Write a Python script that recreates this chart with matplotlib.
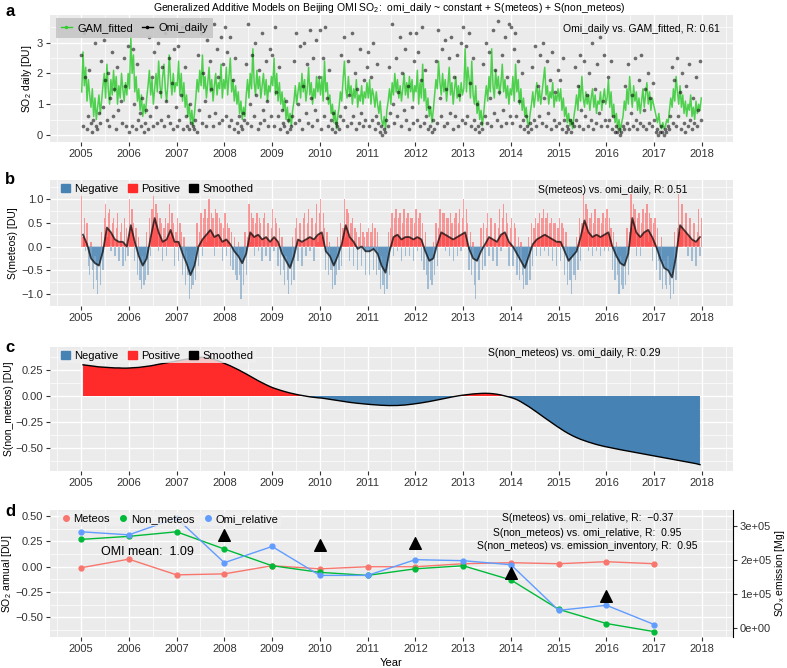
import numpy as np
import matplotlib
matplotlib.use("Agg")
import matplotlib.pyplot as plt
from matplotlib.patches import Patch
from matplotlib.lines import Line2D

plt.rcParams['font.family'] = ['Liberation Sans', 'DejaVu Sans']
plt.rcParams['mathtext.fontset'] = 'custom'
plt.rcParams['mathtext.rm'] = 'Liberation Sans'
plt.rcParams['mathtext.it'] = 'Liberation Sans:italic'

# ---------------- data ----------------
# panel a: GAM fitted / OMI daily, ~10-day samples, 36 per year 2005-2017
gam_fitted = [
    1.4, 2.7, 1.6, 2.2, 1.1, 1.8, 1.3, 0.9, 1.5, 0.6, 1.2, 0.5, 0.9, 1.3, 0.7, 1.1, 1.6, 2.0, 1.2, 2.3, 1.5, 1.0, 1.8, 1.3, 2.1, 1.4, 1.9, 1.0, 1.6, 1.2, 2.0, 1.5, 1.1, 1.7, 1.3, 2.0,
    1.5, 3.2, 2.0, 2.6, 1.4, 1.9, 1.1, 1.5, 0.8, 1.3, 0.6, 1.0, 0.7, 1.2, 1.6, 2.1, 1.3, 1.8, 1.0, 1.5, 2.0, 1.4, 2.4, 1.6, 1.2, 1.9, 2.3, 1.5, 1.1, 1.7, 2.6, 1.8, 1.3, 2.0, 1.4, 1.7,
    1.6, 2.4, 1.3, 2.0, 1.1, 1.7, 0.9, 1.3, 0.6, 1.0, 0.4, 0.8, 0.3, 0.7, 1.2, 1.8, 1.4, 2.1, 1.6, 2.6, 1.5, 1.9, 1.2, 1.7, 2.2, 1.4, 1.8, 1.1, 1.6, 2.0, 1.3, 1.7, 1.5, 2.3, 1.2, 1.8,
    1.5, 2.2, 1.3, 1.9, 2.5, 1.4, 1.8, 1.1, 1.6, 1.0, 1.4, 0.7, 1.1, 0.5, 0.9, 0.6, 1.3, 1.8, 1.2, 2.0, 1.5, 2.8, 1.7, 1.3, 2.1, 1.5, 1.9, 1.2, 1.6, 2.0, 1.3, 1.8, 1.1, 1.6, 1.4, 1.9,
    1.6, 2.5, 1.3, 2.0, 1.1, 1.7, 1.0, 1.4, 0.8, 1.2, 0.5, 0.9, 0.4, 0.7, 0.3, 0.8, 1.1, 1.6, 1.0, 1.4, 1.7, 1.2, 2.0, 1.4, 1.8, 1.1, 1.5, 2.2, 1.3, 1.7, 1.0, 1.5, 1.2, 1.9, 1.4, 1.8,
    1.3, 1.9, 1.1, 2.4, 1.4, 1.7, 1.0, 1.3, 0.7, 1.0, 0.4, 0.8, 0.2, 0.6, 0.9, 1.4, 1.1, 1.8, 2.4, 1.5, 1.2, 1.9, 1.3, 1.6, 1.0, 1.5, 1.2, 1.8, 0.9, 1.3, 1.1, 1.6, 1.0, 1.4, 1.2, 1.7,
    1.2, 1.8, 1.0, 1.5, 1.3, 0.9, 1.4, 1.0, 0.7, 1.1, 0.5, 0.3, 0.6, 0.2, 0.8, 1.1, 1.5, 1.0, 1.7, 1.3, 2.0, 1.4, 1.8, 1.2, 1.6, 1.1, 1.5, 2.0, 1.3, 1.7, 1.2, 1.9, 1.4, 1.8, 1.1, 1.6,
    1.4, 2.1, 1.0, 1.7, 1.2, 2.3, 1.1, 1.5, 0.8, 1.2, 0.6, 0.9, 0.4, 0.8, 1.3, 1.8, 1.5, 2.4, 1.7, 1.3, 2.0, 1.4, 1.8, 1.1, 1.6, 2.2, 1.3, 1.7, 1.0, 1.5, 1.9, 1.2, 1.6, 1.1, 1.7, 1.3,
    1.5, 2.8, 1.4, 2.2, 1.8, 1.2, 2.4, 1.3, 1.0, 1.6, 0.7, 1.1, 0.5, 0.8, 0.3, 0.7, 1.2, 1.6, 1.1, 1.9, 1.4, 2.8, 1.6, 1.2, 2.1, 1.5, 1.9, 1.3, 1.7, 2.3, 1.4, 1.8, 1.2, 1.6, 1.0, 1.5,
    1.3, 1.9, 1.1, 2.3, 1.4, 1.8, 1.0, 1.5, 0.8, 1.2, 0.6, 0.9, 0.4, 0.3, 0.7, 1.0, 1.4, 0.9, 1.3, 1.7, 1.1, 1.5, 1.0, 1.4, 1.8, 2.2, 1.3, 1.6, 1.0, 1.4, 1.2, 1.7, 0.9, 1.3, 1.1, 1.5,
    1.1, 1.5, 0.8, 1.2, 0.6, 0.9, 0.4, 0.7, 0.3, 0.5, 0.2, 0.6, 0.9, 1.3, 0.8, 1.6, 1.1, 1.9, 1.2, 0.9, 1.4, 1.0, 1.3, 0.8, 1.2, 1.5, 0.9, 1.3, 0.7, 1.1, 1.0, 1.4, 0.8, 1.2, 1.5, 1.0,
    1.2, 1.8, 0.9, 1.4, 0.6, 1.0, 0.4, 0.7, 0.2, 0.5, 0.1, 0.4, 0.6, 1.1, 0.8, 1.5, 1.0, 1.9, 1.3, 0.9, 1.6, 1.1, 1.4, 0.8, 1.2, 0.7, 1.1, 1.5, 0.9, 1.3, 1.7, 1.0, 1.4, 0.8, 1.2, 1.0,
    0.8, 0.6, 0.4, 0.7, 0.3, 0.2, 0.4, 0.2, 0.3, 0.5, 0.4, 0.8, 1.2, 0.9, 1.5, 1.1, 1.9, 1.4, 1.0, 1.6, 0.9, 1.3, 0.7, 1.1, 0.6, 1.0, 0.8, 1.3, 0.6, 0.9, 0.5, 1.1, 0.7, 1.0, 0.8, 1.2,
]
omi_daily = [
    2.6, 0.3, 3.3, 1.9, 0.2, 0.6, 2.1, 0.4, 0.1, 0.5, 3.0, 0.3, 0.2, 0.7, 0.4, 2.4, 0.9, 3.1, 1.8, 0.5, 2.0, 0.3, 1.2, 2.7, 0.6, 1.5, 0.2, 2.2, 0.8, 3.4, 1.1, 0.4, 2.5, 1.6, 0.3, 2.9,
    0.1, 3.4, 0.3, 2.8, 1.0, 0.2, 2.3, 0.5, 0.7, 0.3, 1.2, 0.1, 0.4, 0.8, 0.2, 3.2, 0.6, 1.9, 0.3, 2.7, 0.9, 0.4, 3.0, 1.4, 0.5, 2.2, 0.3, 3.3, 1.1, 0.6, 2.5, 0.4, 1.7, 0.2, 2.8, 0.9,
    0.3, 2.9, 0.5, 1.3, 3.5, 0.2, 2.2, 0.6, 0.3, 0.2, 1.0, 0.4, 0.3, 0.2, 0.5, 0.1, 2.6, 0.8, 3.3, 0.4, 2.0, 1.1, 0.3, 3.1, 0.6, 2.4, 1.5, 0.3, 3.6, 0.7, 2.8, 1.9, 0.4, 3.2, 0.5, 2.3,
    3.5, 0.6, 2.7, 0.3, 3.2, 0.5, 1.8, 0.2, 2.5, 0.4, 0.1, 0.6, 0.3, 0.2, 0.7, 0.5, 2.3, 0.4, 3.6, 1.0, 0.3, 2.6, 0.6, 3.0, 1.3, 0.2, 2.1, 0.4, 3.3, 0.8, 0.5, 2.4, 1.1, 0.3, 2.8, 0.6,
    2.6, 0.3, 3.5, 1.4, 0.6, 2.2, 0.2, 0.8, 0.4, 0.3, 1.1, 0.1, 0.5, 0.2, 0.3, 0.6, 2.4, 0.4, 3.3, 1.0, 0.5, 2.9, 0.2, 1.6, 3.0, 0.7, 2.3, 0.4, 3.4, 1.2, 0.3, 2.5, 0.8, 3.1, 0.5, 1.9,
    3.4, 0.2, 2.5, 0.6, 3.5, 1.2, 0.3, 2.1, 0.5, 0.2, 0.7, 0.1, 0.4, 0.3, 0.2, 0.6, 2.6, 0.5, 3.2, 0.9, 0.3, 2.4, 1.3, 0.4, 3.3, 0.6, 2.0, 0.2, 1.5, 0.4, 2.8, 0.7, 0.3, 1.8, 0.5, 2.2,
    2.7, 0.3, 1.9, 0.5, 3.0, 0.2, 0.6, 2.3, 0.4, 0.1, 0.3, 0.0, 0.2, 0.1, 0.5, 0.3, 2.2, 0.7, 3.6, 1.0, 0.4, 2.5, 0.6, 1.4, 3.2, 0.3, 2.0, 0.8, 2.8, 0.5, 1.6, 0.2, 3.3, 0.9, 0.4, 2.4,
    3.3, 0.5, 2.7, 0.3, 1.8, 3.5, 0.4, 2.1, 0.6, 0.2, 0.9, 0.3, 0.1, 0.5, 0.2, 2.4, 0.4, 3.4, 1.2, 0.6, 2.8, 0.3, 3.1, 1.5, 0.4, 2.5, 0.7, 3.2, 0.2, 1.9, 0.6, 2.6, 0.3, 1.3, 3.0, 0.5,
    3.5, 0.4, 2.9, 0.6, 3.3, 1.7, 0.3, 2.5, 0.5, 0.2, 1.0, 0.3, 0.1, 0.4, 0.2, 2.3, 0.6, 3.0, 0.4, 2.7, 1.2, 0.3, 3.4, 0.7, 2.1, 0.5, 3.7, 1.4, 0.3, 2.6, 0.8, 3.2, 0.4, 1.9, 3.6, 0.6,
    3.5, 0.4, 2.8, 3.3, 0.6, 2.4, 1.1, 0.3, 2.0, 0.5, 0.2, 0.6, 0.3, 0.1, 0.4, 0.2, 2.2, 0.5, 2.9, 0.3, 1.6, 0.6, 2.6, 0.4, 3.0, 1.2, 0.3, 2.4, 0.7, 1.8, 0.2, 2.7, 0.5, 1.4, 0.3, 2.1,
    0.4, 1.8, 0.2, 2.5, 0.5, 0.1, 0.3, 0.2, 0.5, 0.1, 0.4, 0.3, 2.2, 0.5, 1.6, 0.3, 2.6, 0.8, 0.2, 2.4, 0.6, 1.3, 0.3, 2.0, 0.5, 3.0, 0.2, 1.5, 0.4, 2.3, 0.7, 3.2, 0.3, 1.1, 2.6, 0.5,
    0.3, 1.9, 0.5, 2.4, 0.2, 0.6, 0.1, 0.3, 0.1, 0.2, 0.0, 0.1, 0.3, 0.2, 1.6, 0.4, 2.3, 0.2, 0.7, 1.3, 0.3, 2.5, 0.5, 0.2, 1.8, 0.4, 2.6, 0.3, 0.8, 1.5, 0.2, 2.0, 0.4, 1.2, 0.3, 1.7,
    0.5, 0.1, 0.2, 0.0, 0.1, 0.3, 0.1, 0.0, 0.2, 0.1, 0.3, 0.2, 0.6, 2.2, 0.4, 1.8, 0.3, 2.5, 0.6, 1.4, 0.2, 2.0, 0.4, 0.1, 1.6, 0.3, 2.3, 0.5, 0.2, 1.2, 0.4, 1.9, 0.3, 0.8, 2.4, 0.5,
]

# panel b: S(meteos), 36 per year, and its smoothed curve, 12 per year
s_meteos = [
    1.1, 0.2, 0.6, -0.1, 0.5, -0.4, -0.6, 0.1, -0.5, -0.9, -0.2, -0.7, -1.0, -0.3, -0.8, 0.3, -0.5, 0.6, 0.9, 0.2, 0.7, 0.8, -0.1, 0.5, 0.6, -0.2, 0.4, 0.7, -0.3, 0.3, 0.5, -0.4, 0.6, -0.3, 0.4, -0.2,
    1.0, 0.3, 0.8, 0.5, -0.3, 0.4, -0.6, 0.2, -0.7, -0.9, -0.2, -0.8, -0.7, 0.3, -0.6, 0.6, -0.2, 0.8, 1.1, 0.4, 0.9, 0.7, -0.1, 0.6, 0.5, -0.3, 0.4, 0.6, -0.2, 0.5, 0.9, 0.2, 0.7, 0.5, -0.4, 0.3,
    0.6, -0.3, 0.5, 0.3, -0.6, 0.2, -0.8, -0.1, -0.6, -1.1, -0.5, -0.9, -0.8, -0.2, -0.7, 0.5, -0.4, 0.3, 0.7, -0.2, 0.6, 0.8, 0.1, 0.6, 1.0, 0.2, 0.7, 0.6, -0.2, 0.8, 0.7, 0.0, 0.6, 0.5, -0.3, 0.4,
    0.7, -0.2, 0.5, 0.4, -0.4, 0.3, -0.5, 0.2, -0.6, -0.7, 0.1, -0.6, -1.1, -0.3, -0.8, 0.3, -0.6, 0.2, 0.9, 0.1, 0.7, 0.6, -0.2, 0.5, 0.7, -0.1, 0.6, 0.5, -0.3, 0.6, 0.7, -0.2, 0.5, 0.5, -0.3, 0.4,
    0.8, -0.1, 0.6, 0.5, -0.4, 0.4, -0.6, 0.2, -0.5, -0.8, -0.2, -0.7, -1.0, -0.4, -0.8, 0.2, -0.7, 0.4, 0.6, -0.3, 0.5, 0.5, -0.4, 0.6, 0.7, -0.2, 0.5, 0.8, -0.1, 0.6, 0.6, -0.3, 0.5, 0.9, 0.1, 0.7,
    1.0, 0.2, 0.7, 0.4, -0.5, 0.3, -0.6, 0.1, -0.5, -0.9, -0.3, -0.8, -0.6, 0.2, -0.5, 0.5, -0.4, 0.4, 1.0, 0.2, 0.8, 0.7, -0.3, 0.5, 0.6, -0.4, 0.4, 0.3, -0.5, 0.2, 0.5, -0.4, 0.3, 0.2, -0.6, 0.3,
    0.4, -0.6, 0.3, 0.5, -0.5, 0.4, -0.6, 0.3, -0.5, -0.9, -0.2, -0.8, -1.0, -0.4, -0.9, 0.3, -0.6, 0.4, 0.7, -0.2, 0.6, 0.8, -0.1, 0.6, 0.7, -0.3, 0.5, 0.8, -0.2, 0.6, 0.7, -0.2, 0.6, 0.6, -0.3, 0.5,
    0.8, -0.1, 0.6, 0.7, -0.3, 0.5, -0.5, 0.3, -0.6, -0.9, -0.2, -0.7, -0.8, 0.1, -0.6, 0.5, -0.4, 0.4, 0.8, 0.0, 0.7, 0.7, -0.1, 0.6, 0.6, -0.2, 0.7, 0.5, -0.3, 0.6, 0.7, -0.2, 0.5, 0.8, -0.1, 0.6,
    1.0, 0.0, 0.8, 0.5, -0.5, 0.3, -0.6, 0.1, -0.8, -1.1, -0.3, -0.7, -0.7, 0.4, -0.5, 0.5, -0.4, 0.4, 0.7, -0.2, 0.6, 0.6, -0.3, 0.5, 0.5, -0.4, 0.4, 0.8, -0.1, 0.6, 0.9, 0.0, 0.7, 0.5, -0.4, 0.4,
    0.6, -0.4, 0.5, 0.4, -0.6, 0.2, -0.7, 0.1, -0.6, -0.9, -0.3, -0.8, -0.8, 0.2, -0.7, 0.5, -0.4, 0.4, 0.6, -0.2, 0.5, 0.7, -0.2, 0.6, 0.8, -0.1, 0.6, 0.7, -0.2, 0.5, 0.6, -0.3, 0.5, 0.5, -0.4, 0.4,
    0.6, -0.3, 0.5, 0.4, -0.6, 0.3, -0.8, 0.0, -0.7, -1.0, -0.2, -0.6, -0.7, 0.2, -0.5, 0.6, -0.3, 0.5, 1.1, 0.3, 0.9, 0.8, -0.1, 0.6, 0.7, -0.2, 0.5, 0.8, -0.1, 0.6, 0.6, -0.2, 0.5, 0.7, -0.1, 0.6,
    0.8, -0.1, 0.6, 0.4, -0.5, 0.3, -0.7, 0.1, -0.6, -1.0, -0.2, -0.8, -0.9, -0.3, -0.8, 0.4, -0.6, 0.3, 1.1, 0.4, 0.9, 0.8, -0.2, 0.6, 0.7, -0.2, 0.5, 0.8, 0.0, 0.7, 0.9, 0.1, 0.7, 0.6, -0.3, 0.5,
    0.6, -0.5, 0.4, -0.3, -0.7, 0.2, -0.9, -0.3, -0.8, -0.9, -0.2, -0.8, -1.1, -0.5, -1.0, 0.3, -0.7, 0.4, 1.1, 0.3, 0.9, 0.9, 0.0, 0.7, 0.7, -0.2, 0.6, 0.6, -0.3, 0.5, 0.5, -0.4, 0.3, 0.8, -0.2, 0.6,
]
s_meteos_smooth = [
    0.25, 0.05, -0.25, -0.35, -0.4, -0.1, 0.4, 0.3, 0.15, 0.1, 0.1, 0.0,
    0.45, 0.1, -0.2, -0.4, -0.25, 0.2, 0.6, 0.3, 0.1, 0.15, 0.35, 0.1,
    0.1, -0.15, -0.35, -0.6, -0.4, 0.0, 0.15, 0.25, 0.35, 0.2, 0.25, 0.1,
    0.15, 0.05, -0.1, -0.2, -0.35, -0.15, 0.3, 0.2, 0.25, 0.15, 0.2, 0.1,
    0.2, 0.1, -0.15, -0.3, -0.45, -0.2, 0.15, 0.1, 0.15, 0.2, 0.15, 0.25,
    0.3, -0.1, -0.2, -0.4, -0.2, 0.05, 0.45, 0.2, 0.1, -0.05, 0.0, -0.1,
    -0.1, -0.05, -0.15, -0.4, -0.55, -0.1, 0.2, 0.25, 0.15, 0.2, 0.2, 0.15,
    0.2, 0.15, -0.1, -0.3, -0.25, 0.05, 0.3, 0.25, 0.2, 0.15, 0.2, 0.25,
    0.3, -0.05, -0.25, -0.3, -0.1, 0.05, 0.2, 0.15, 0.1, 0.25, 0.3, 0.1,
    0.0, -0.15, -0.3, -0.45, -0.2, 0.05, 0.15, 0.2, 0.25, 0.2, 0.15, 0.1,
    0.1, -0.1, -0.3, -0.2, -0.1, 0.2, 0.55, 0.3, 0.2, 0.25, 0.2, 0.25,
    0.3, 0.0, -0.2, -0.35, -0.4, -0.15, 0.6, 0.3, 0.2, 0.3, 0.35, 0.2,
    0.0, -0.25, -0.45, -0.5, -0.65, -0.2, 0.45, 0.35, 0.25, 0.15, 0.1, 0.2,
]

# panel c: S(non_meteos), monthly
s_non_meteos = [
    0.30, 0.295, 0.29, 0.285, 0.28, 0.278, 0.275, 0.272, 0.27, 0.27, 0.268, 0.268,
    0.27, 0.272, 0.275, 0.28, 0.285, 0.29, 0.298, 0.305, 0.312, 0.32, 0.327, 0.333,
    0.34, 0.347, 0.355, 0.362, 0.368, 0.372, 0.372, 0.368, 0.36, 0.35, 0.338, 0.322,
    0.305, 0.29, 0.272, 0.253, 0.233, 0.212, 0.19, 0.168, 0.147, 0.127, 0.108, 0.09,
    0.075, 0.062, 0.05, 0.039, 0.029, 0.02, 0.012, 0.005, -0.002, -0.008, -0.013, -0.017,
    -0.02, -0.026, -0.032, -0.038, -0.044, -0.05, -0.056, -0.061, -0.066, -0.07, -0.074, -0.078,
    -0.081, -0.084, -0.087, -0.089, -0.091, -0.092, -0.092, -0.091, -0.089, -0.086, -0.082, -0.077,
    -0.072, -0.066, -0.06, -0.053, -0.046, -0.038, -0.03, -0.022, -0.014, -0.007, 0.0, 0.006,
    0.011, 0.016, 0.02, 0.023, 0.025, 0.026, 0.025, 0.022, 0.017, 0.01, 0.001, -0.009,
    -0.02, -0.035, -0.055, -0.078, -0.102, -0.128, -0.155, -0.183, -0.21, -0.237, -0.263, -0.29,
    -0.315, -0.34, -0.362, -0.382, -0.4, -0.416, -0.43, -0.443, -0.455, -0.466, -0.476, -0.485,
    -0.493, -0.501, -0.509, -0.516, -0.523, -0.53, -0.537, -0.544, -0.551, -0.558, -0.565, -0.572,
    -0.58, -0.587, -0.594, -0.601, -0.608, -0.615, -0.622, -0.629, -0.636, -0.643, -0.65, -0.66,
]

# panel d: annual values
years_d = [2005, 2006, 2007, 2008, 2009, 2010, 2011, 2012, 2013, 2014, 2015, 2016, 2017]
meteos_annual = [-0.01, 0.075, -0.08, -0.07, 0.01, -0.02, 0.0, 0.0, 0.03, 0.04, 0.03, 0.05, 0.03]
non_meteos_annual = [0.27, 0.30, 0.345, 0.175, 0.01, -0.055, -0.085, -0.02, 0.01, -0.13, -0.42, -0.56, -0.64]
omi_relative = [0.345, 0.315, 0.48, 0.04, 0.20, -0.085, -0.085, 0.07, 0.06, 0.02, -0.43, -0.38, -0.57]
inv_years = [2008, 2010, 2012, 2014, 2016]
emission_inventory = [2.73e5, 2.44e5, 2.49e5, 1.61e5, 0.94e5]

# ---------------- plotting ----------------
t36 = 2005 + (np.arange(len(gam_fitted)) + 0.5) / 36.0
t36b = 2005 + (np.arange(len(omi_daily)) + 0.2) / 36.0
t12 = 2005 + (np.arange(len(s_non_meteos)) + 0.5) / 12.0

RED = '#FF2A2A'
BLUE = '#4682B4'
TXT = '#333333'
FS = 8
LFS = 7.5  # axis titles

fig = plt.figure(figsize=(7.87, 6.68), dpi=100)
W, H = 787.0, 668.0


def make_ax(top, bottom):
    return fig.add_axes([50 / W, 1 - bottom / H, 683 / W, (bottom - top) / H])


def style(ax, ylim, yticks, ystep):
    ax.set_facecolor('#EBEBEB')
    for s in ax.spines.values():
        s.set_visible(False)
    ax.set_xlim(2004.35, 2018.65)
    ax.set_xticks(range(2005, 2019))
    ax.set_xticks(np.arange(2004.5, 2019, 1.0), minor=True)
    ax.set_yticks(yticks)
    ax.set_yticks(np.arange(yticks[0] - ystep / 2, yticks[-1] + ystep, ystep), minor=True)
    ax.set_ylim(*ylim)
    ax.grid(which='major', color='white', lw=1.0)
    ax.grid(which='minor', color='white', lw=0.5)
    ax.set_axisbelow(True)
    ax.tick_params(which='major', length=3, color=TXT, labelsize=FS, labelcolor=TXT, pad=2)
    ax.tick_params(which='minor', length=0)


# --- a ---
ax1 = make_ax(15, 142)
style(ax1, (-0.23, 3.9), [0, 1, 2, 3], 1.0)
ax1.plot(t36, gam_fitted, color='#33CC33', lw=1.1, alpha=0.85, zorder=2)
ax1.scatter(t36b, omi_daily, s=7, color='black', alpha=0.55, lw=0, zorder=3)
ax1.set_ylabel('SO$_2$ daily [DU]', fontsize=LFS, color='black', labelpad=2)
ax1.text(2016.74, 3.44, 'Omi_daily vs. GAM_fitted, R: 0.61', fontsize=7.5, ha='center', va='center')
leg = ax1.legend(handles=[Line2D([], [], color='#33CC33', marker='.', ms=3, lw=1),
                          Line2D([], [], color='black', marker='.', ms=3, lw=1)],
                 labels=['GAM_fitted', 'Omi_daily'], ncol=2, loc='upper left',
                 bbox_to_anchor=(0.0, 1.02), fontsize=8, frameon=True, fancybox=False,
                 handlelength=1.0, columnspacing=0.8, handletextpad=0.5, borderpad=0.45)
leg.get_frame().set_facecolor('#C6C6C6')
leg.get_frame().set_edgecolor('none')
leg.get_frame().set_alpha(0.9)

# --- b ---
ax2 = make_ax(180, 306)
style(ax2, (-1.25, 1.40), [-1.0, -0.5, 0.0, 0.5, 1.0], 0.5)
vals = np.array(s_meteos)
sm = np.array(s_meteos_smooth)
ax2.bar(t36, vals, width=1 / 36.0, color=np.where(vals > 0, RED, BLUE), alpha=0.45, lw=0, zorder=2)
ax2.fill_between(t12, sm, 0, where=sm >= 0, interpolate=True, color=RED, alpha=0.6, lw=0, zorder=2)
ax2.fill_between(t12, sm, 0, where=sm <= 0, interpolate=True, color=BLUE, alpha=0.7, lw=0, zorder=2)
ax2.plot(t12, sm, color='black', lw=1.3, alpha=0.7, zorder=3)
ax2.set_ylabel('S(meteos) [DU]', fontsize=LFS, color='black', labelpad=2)
ax2.text(2016.14, 1.19, 'S(meteos) vs. omi_daily, R: 0.51', fontsize=7.5, ha='center', va='center')


def patch_legend(ax):
    lg = ax.legend(handles=[Patch(color=BLUE), Patch(color=RED), Patch(color='black')],
                   labels=['Negative', 'Positive', 'Smoothed'], ncol=3, loc='upper left',
                   bbox_to_anchor=(0.005, 1.03), fontsize=8, frameon=True, fancybox=False,
                   handlelength=0.8, handleheight=0.8, columnspacing=0.8, handletextpad=0.4,
                   borderpad=0.2)
    lg.get_frame().set_facecolor('#F0F0F0')
    lg.get_frame().set_edgecolor('none')
    return lg


patch_legend(ax2)

# --- c ---
ax3 = make_ax(346.7, 470.7)
style(ax3, (-0.718, 0.474), [-0.5, -0.25, 0.0, 0.25], 0.25)
nm = np.array(s_non_meteos)
ax3.fill_between(t12, nm, 0, where=nm >= 0, interpolate=True, color=RED, lw=0, zorder=2)
ax3.fill_between(t12, nm, 0, where=nm <= 0, interpolate=True, color=BLUE, lw=0, zorder=2)
ax3.plot(t12, nm, color='black', lw=1.0, zorder=3)
ax3.set_ylabel('S(non_meteos) [DU]', fontsize=LFS, color='black', labelpad=1)
ax3.set_yticklabels(['\u22120.50', '\u22120.25', '0.00', '0.25'])
ax3.text(2015.33, 0.416, 'S(non_meteos) vs. omi_daily, R: 0.29', fontsize=7.5, ha='center', va='center')
patch_legend(ax3)

# --- d ---
ax4 = make_ax(510, 636.7)
style(ax4, (-0.69, 0.56), [-0.5, -0.25, 0.0, 0.25, 0.5], 0.25)
ax4.set_yticklabels(['\u22120.50', '\u22120.25', '0.00', '0.25', '0.50'])
ax4.plot(years_d, meteos_annual, color='#F8766D', lw=1, marker='o', ms=3.5, label='Meteos', zorder=3)
ax4.plot(years_d, non_meteos_annual, color='#00BA38', lw=1, marker='o', ms=3.5, label='Non_meteos', zorder=3)
ax4.plot(years_d, omi_relative, color='#619CFF', lw=1, marker='o', ms=3.5, label='Omi_relative', zorder=3)
ax4.set_ylabel('SO$_2$ annual [DU]', fontsize=LFS, color='black', labelpad=1)
ax4.set_xlabel('Year', fontsize=FS, color='black', labelpad=3)
ax4.text(2006.4, 0.145, 'OMI mean:  1.09', fontsize=9, ha='center', va='center')
ax4.text(2015.6, 0.48, 'S(meteos) vs. omi_relative, R:  \u22120.37', fontsize=7.5, ha='center', va='center')
ax4.text(2015.6, 0.335, 'S(non_meteos) vs. omi_relative, R:  0.95', fontsize=7.5, ha='center', va='center')
ax4.text(2015.6, 0.20, 'S(non_meteos) vs. emission_inventory, R:  0.95', fontsize=7.5, ha='center', va='center')
lg4 = ax4.legend(handles=[Line2D([], [], color=c, marker='o', ms=4, lw=0) for c in ['#F8766D', '#00BA38', '#619CFF']],
                 labels=['Meteos', 'Non_meteos', 'Omi_relative'], ncol=3, loc='upper left',
                 bbox_to_anchor=(0.005, 1.03), fontsize=8, frameon=True, fancybox=False,
                 handlelength=0.8, columnspacing=0.8, handletextpad=0.3, borderpad=0.2)
lg4.get_frame().set_facecolor('#F0F0F0')
lg4.get_frame().set_edgecolor('none')

ax5 = ax4.twinx()
ax5.set_ylim(-0.245e5, 3.46e5)
ax5.set_yticks([0, 1e5, 2e5, 3e5])
ax5.set_yticklabels(['0e+00', '1e+05', '2e+05', '3e+05'])
for s in ['top', 'left', 'bottom']:
    ax5.spines[s].set_visible(False)
ax5.spines['right'].set_color('black')
ax5.spines['right'].set_linewidth(0.8)
ax5.tick_params(length=3, color=TXT, labelsize=FS, labelcolor=TXT, pad=2)
ax5.scatter(inv_years, emission_inventory, marker='^', s=70, color='black', zorder=4)
ax5.set_ylabel('SO$_\\mathregular{x}$ emission [Mg]', fontsize=7.5, color='black', labelpad=1)

# titles / panel letters
fig.text(389 / W, 1 - 8 / H, 'Generalized Additive Models on Beijing OMI SO$_2$:  omi_daily ~ constant + S(meteos) + S(non_meteos)',
         fontsize=7.5, ha='center', va='center')
for lab, y in [('a', 12), ('b', 179), ('c', 347), ('d', 511)]:
    fig.text(5 / W, 1 - y / H, lab, fontsize=12, fontweight='bold', ha='left', va='center')

fig.savefig('out.png', dpi=100)
